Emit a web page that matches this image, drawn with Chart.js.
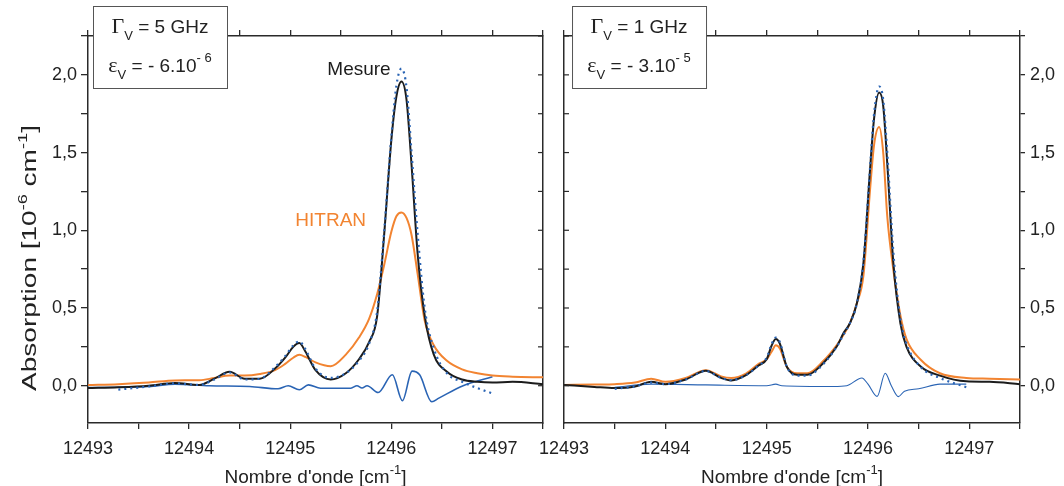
<!DOCTYPE html>
<html>
<head>
<meta charset="utf-8">
<script src="https://cdn.jsdelivr.net/npm/chart.js@4.4.0/dist/chart.umd.min.js"></script>
<style>
  body { margin: 0; background: #fff; }
  #wrap { position: relative; width: 1064px; height: 486px; }
  canvas { position: absolute; top: 0; }
</style>
</head>
<body>
<div id="wrap">
  <canvas id="left" width="552" height="486" style="left:0px"></canvas>
  <canvas id="right" width="534" height="486" style="left:530px"></canvas>
</div>
<script>
// axis ranges
var X_MIN = 12493, X_MAX = 12497.5;
var Y_MIN = -0.24, Y_MAX = 2.25;

// left panel : Gamma_V = 5 GHz
var waveL = [12493.0, 12493.3, 12493.6, 12493.86, 12494.1, 12494.25, 12494.4, 12494.55, 12494.7, 12494.85,
  12494.95, 12495.03, 12495.09, 12495.15, 12495.25, 12495.4, 12495.55, 12495.68, 12495.78, 12495.86,
  12495.93, 12496.0, 12496.05, 12496.1, 12496.15, 12496.2, 12496.26, 12496.33, 12496.42, 12496.55,
  12496.7, 12496.85, 12497.0, 12497.2, 12497.5];
var mesureL = [-0.015, -0.01, 0.0, 0.018, 0.005, 0.045, 0.09, 0.045, 0.045, 0.11,
  0.18, 0.25, 0.274, 0.22, 0.1, 0.04, 0.08, 0.17, 0.28, 0.45,
  0.98, 1.58, 1.86, 1.957, 1.84, 1.42, 0.85, 0.45, 0.2, 0.09,
  0.04, 0.025, 0.02, 0.025, 0.01];
var fitL = [null, -0.025, -0.005, 0.015, 0.005, 0.04, 0.085, 0.04, 0.045, 0.12,
  0.19, 0.26, 0.285, 0.235, 0.11, 0.05, 0.08, 0.16, 0.27, 0.48,
  1.0, 1.6, 1.93, 2.04, 1.92, 1.5, 0.98, 0.5, 0.24, 0.08,
  0.025, -0.015, -0.05, null, null];
var hitranL = [0.005, 0.01, 0.02, 0.034, 0.035, 0.05, 0.065, 0.065, 0.075, 0.1,
  0.14, 0.18, 0.199, 0.185, 0.15, 0.125, 0.2, 0.31, 0.43, 0.59,
  0.78, 0.99, 1.09, 1.115, 1.08, 0.97, 0.72, 0.42, 0.26, 0.16,
  0.105, 0.08, 0.065, 0.058, 0.054];
var residWaveL = [12493.0, 12493.3, 12493.6, 12493.86, 12494.2, 12494.6, 12494.88, 12494.98, 12495.09, 12495.18,
  12495.3, 12495.6, 12495.66, 12495.71, 12495.76, 12495.87, 12496.01, 12496.11, 12496.205, 12496.28,
  12496.40, 12496.47, 12496.71, 12497.0];
var residL = [-0.012, -0.01, -0.005, 0.01, 0.0, -0.005, -0.02, 0.0, -0.026, 0.005,
  -0.016, -0.016, 0.0, -0.015, 0.0, -0.044, 0.07, -0.097, 0.094, 0.07,
  -0.103, -0.08, 0.0, 0.058];

// right panel : Gamma_V = 1 GHz
var waveR = [12493.0, 12493.3, 12493.5, 12493.7, 12493.86, 12494.0, 12494.2, 12494.4, 12494.55, 12494.65,
  12494.8, 12494.92, 12495.0, 12495.05, 12495.09, 12495.13, 12495.2, 12495.3, 12495.4, 12495.56,
  12495.69, 12495.76, 12495.82, 12495.89, 12495.955, 12496.02, 12496.06, 12496.11, 12496.15, 12496.19,
  12496.25, 12496.32, 12496.38, 12496.52, 12496.71, 12496.97, 12497.2, 12497.5];
var mesureR = [0.005, -0.008, -0.015, -0.005, 0.025, 0.01, 0.04, 0.096, 0.05, 0.034,
  0.07, 0.13, 0.17, 0.26, 0.30, 0.27, 0.12, 0.07, 0.07, 0.146,
  0.25, 0.34, 0.40, 0.53, 0.79, 1.39, 1.72, 1.886, 1.80, 1.43,
  0.79, 0.40, 0.25, 0.124, 0.065, 0.028, 0.025, 0.01];
var fitR = [null, null, -0.02, -0.005, 0.02, 0.01, 0.04, 0.095, 0.05, 0.035,
  0.07, 0.13, 0.18, 0.27, 0.31, 0.28, 0.12, 0.065, 0.065, 0.14,
  0.25, 0.33, 0.40, 0.53, 0.80, 1.40, 1.75, 1.925, 1.84, 1.50,
  0.86, 0.43, 0.27, 0.12, 0.05, -0.01, null, null];
var hitranR = [0.005, 0.008, 0.01, 0.02, 0.045, 0.025, 0.05, 0.1, 0.06, 0.05,
  0.08, 0.14, 0.17, 0.22, 0.26, 0.24, 0.12, 0.08, 0.08, 0.16,
  0.26, 0.33, 0.40, 0.53, 0.71, 1.26, 1.55, 1.664, 1.50, 1.09,
  0.746, 0.45, 0.30, 0.167, 0.08, 0.05, 0.045, 0.04];
var residWaveR = [12493.5, 12493.86, 12494.4, 12495.0, 12495.09, 12495.15, 12495.66, 12495.79, 12495.94, 12496.0,
  12496.09, 12496.17, 12496.23, 12496.30, 12496.36, 12496.5, 12496.71, 12496.97];
var residR = [-0.01, 0.01, 0.005, 0.0, 0.01, 0.0, -0.005, 0.0, 0.05, 0.01,
  -0.069, 0.08, 0.0, -0.07, -0.035, -0.02, 0.01, 0.01];

var FONT = 'Arial, "Liberation Sans", sans-serif';
var SERIF = '"Liberation Serif", "DejaVu Serif", serif';
var AXIS = '#2a2a2a';
var BLACK = '#1c1c1c', ORANGE = '#f28431', BLUE = '#2a64b4';

function pts(xs, ys) {
  var out = [];
  for (var i = 0; i < xs.length; i++) {
    if (ys[i] !== null) out.push({ x: xs[i], y: ys[i] });
  }
  return out;
}

function comma(v) { return v.toFixed(1).replace('.', ','); }

function drawRich(ctx, parts, x, y, align) {
  var w = 0;
  parts.forEach(function (p) { ctx.font = p.font; w += ctx.measureText(p.t).width; });
  var cx = align === 'center' ? x - w / 2 : x;
  parts.forEach(function (p) {
    ctx.font = p.font;
    ctx.fillText(p.t, cx, y + (p.dy || 0));
    cx += ctx.measureText(p.t).width;
  });
}

var MAIN = '19px ' + FONT, SMALL = '13px ' + FONT, GREEK = '22px ' + SERIF;
var YT = '20px ' + FONT, YT_SUP = '13px ' + FONT;

var annot = {
  id: 'annot',
  afterDraw: function (chart, args, o) {
    var ctx = chart.ctx, a = chart.chartArea;
    var xs = chart.scales.x, ys = chart.scales.y;
    ctx.save();
    // small inner ticks on the edge facing the other panel
    ctx.strokeStyle = AXIS; ctx.lineWidth = 1.2;
    var edge = o.inner === 'right' ? a.right : a.left;
    var dir = o.inner === 'right' ? -1 : 1;
    ys.ticks.forEach(function (t) {
      var py = ys.getPixelForValue(t.value);
      ctx.beginPath(); ctx.moveTo(edge, py); ctx.lineTo(edge + dir * 5, py); ctx.stroke();
    });
    // parameter box
    var bx = a.left + o.boxDx, by = 6, bw = 134, bh = 82;
    ctx.fillStyle = '#fff'; ctx.fillRect(bx, by, bw, bh);
    ctx.strokeStyle = '#555'; ctx.lineWidth = 1; ctx.strokeRect(bx + 0.5, by + 0.5, bw, bh);
    ctx.fillStyle = '#222'; ctx.textBaseline = 'alphabetic';
    drawRich(ctx, [
      { t: '\u0393', font: GREEK },
      { t: 'V', font: SMALL, dy: 7 },
      { t: ' = ' + o.gamma, font: MAIN }
    ], bx + bw / 2, 33, 'center');
    drawRich(ctx, [
      { t: '\u03b5', font: GREEK },
      { t: 'V', font: SMALL, dy: 7 },
      { t: ' = - ' + o.eps, font: MAIN },
      { t: o.epsExp, font: SMALL, dy: -10 }
    ], bx + bw / 2, 72, 'center');
    // curve labels
    ctx.textAlign = 'center'; ctx.textBaseline = 'middle'; ctx.font = MAIN;
    (o.labels || []).forEach(function (l) {
      ctx.fillStyle = l.color;
      ctx.fillText(l.text, xs.getPixelForValue(l.x), ys.getPixelForValue(l.y));
    });
    // axis titles
    ctx.textAlign = 'left'; ctx.textBaseline = 'alphabetic'; ctx.fillStyle = '#222';
    drawRich(ctx, [
      { t: "Nombre d'onde [cm", font: MAIN },
      { t: '-1', font: SMALL, dy: -9 },
      { t: ']', font: MAIN }
    ], (a.left + a.right) / 2, 483, 'center');
    if (o.yTitle) {
      // the original y title is drawn stretched along its length
      ctx.translate(28, 258);
      ctx.rotate(-Math.PI / 2);
      ctx.scale(1.4, 1);
      drawRich(ctx, [
        { t: 'Absorption [10', font: YT },
        { t: '-6', font: YT_SUP, dy: -9 },
        { t: ' cm', font: YT },
        { t: '-1', font: YT_SUP, dy: -9 },
        { t: ']', font: YT }
      ], 0, 8, 'center');
    }
    ctx.restore();
  }
};

function buildChart(id, side, d) {
  var isLeft = side === 'left';
  var xTicks = {
    stepSize: 0.5, autoSkip: false, maxRotation: 0, includeBounds: false, padding: 9,
    color: '#222', font: { family: FONT, size: 18 },
    callback: function (v) { return Number.isInteger(v) ? String(v) : ''; }
  };
  var yLabels = {
    stepSize: 0.25, autoSkip: false, includeBounds: false, padding: isLeft ? 4 : 5,
    color: '#222', font: { family: FONT, size: 18 },
    callback: function (v) { return Math.abs(v * 2 - Math.round(v * 2)) < 1e-6 ? comma(v) : ''; }
  };
  var border = { color: AXIS, width: 1.5 };
  var scales = {
    x: {
      type: 'linear', position: 'bottom', min: X_MIN, max: X_MAX, ticks: xTicks,
      grid: { drawOnChartArea: false, tickLength: 6, color: AXIS, lineWidth: 1.3 }, border: border,
      afterFit: function (s) { s.height = 63; }
    },
    xTop: {
      type: 'linear', position: 'top', min: X_MIN, max: X_MAX,
      ticks: { stepSize: 0.5, includeBounds: false, display: false },
      grid: { drawOnChartArea: false, tickLength: 6, color: AXIS, lineWidth: 1.3 }, border: border,
      afterFit: function (s) { s.height = 36; }
    },
    y: {
      type: 'linear', position: isLeft ? 'left' : 'right', min: Y_MIN, max: Y_MAX, ticks: yLabels,
      grid: { drawOnChartArea: false, tickLength: isLeft ? 7 : 5, color: AXIS, lineWidth: 1.3 }, border: border,
      afterFit: function (s) { s.width = isLeft ? 88 : 44; }
    },
    yIn: {
      type: 'linear', position: isLeft ? 'right' : 'left', min: Y_MIN, max: Y_MAX,
      ticks: { display: false }, grid: { display: false }, border: border,
      afterFit: function (s) { s.width = isLeft ? 8 : 34; }
    }
  };
  var common = { xAxisID: 'x', yAxisID: 'y', pointRadius: 0, fill: false, cubicInterpolationMode: 'monotone' };
  new Chart(document.getElementById(id), {
    type: 'line',
    data: {
      datasets: [
        Object.assign({ label: 'Fit', data: pts(d.wave, d.fit), borderColor: BLUE, borderWidth: 2.2, borderDash: [2, 4] }, common),
        Object.assign({ label: 'Mesure', data: pts(d.wave, d.mesure), borderColor: BLACK, borderWidth: 2 }, common),
        Object.assign({ label: 'HITRAN', data: pts(d.wave, d.hitran), borderColor: ORANGE, borderWidth: 2 }, common),
        Object.assign({ label: 'Residu', data: pts(d.residWave, d.resid), borderColor: BLUE, borderWidth: isLeft ? 1.6 : 1.1 }, common)
      ]
    },
    options: {
      responsive: false,
      devicePixelRatio: 1,
      animation: false,
      layout: { padding: 0 },
      scales: scales,
      plugins: {
        legend: { display: false },
        tooltip: { enabled: false },
        annot: d.annot
      }
    },
    plugins: [annot]
  });
}

buildChart('left', 'left', {
  wave: waveL, mesure: mesureL, fit: fitL, hitran: hitranL, residWave: residWaveL, resid: residL,
  annot: {
    inner: 'right', boxDx: 5, gamma: '5 GHz', eps: '6.10', epsExp: '- 6', yTitle: true,
    labels: [
      { text: 'Mesure', x: 12495.68, y: 2.03, color: BLACK },
      { text: 'HITRAN', x: 12495.40, y: 1.06, color: ORANGE }
    ]
  }
});
buildChart('right', 'right', {
  wave: waveR, mesure: mesureR, fit: fitR, hitran: hitranR, residWave: residWaveR, resid: residR,
  annot: { inner: 'left', boxDx: 8, gamma: '1 GHz', eps: '3.10', epsExp: '- 5', yTitle: false, labels: [] }
});
</script>
</body>
</html>
